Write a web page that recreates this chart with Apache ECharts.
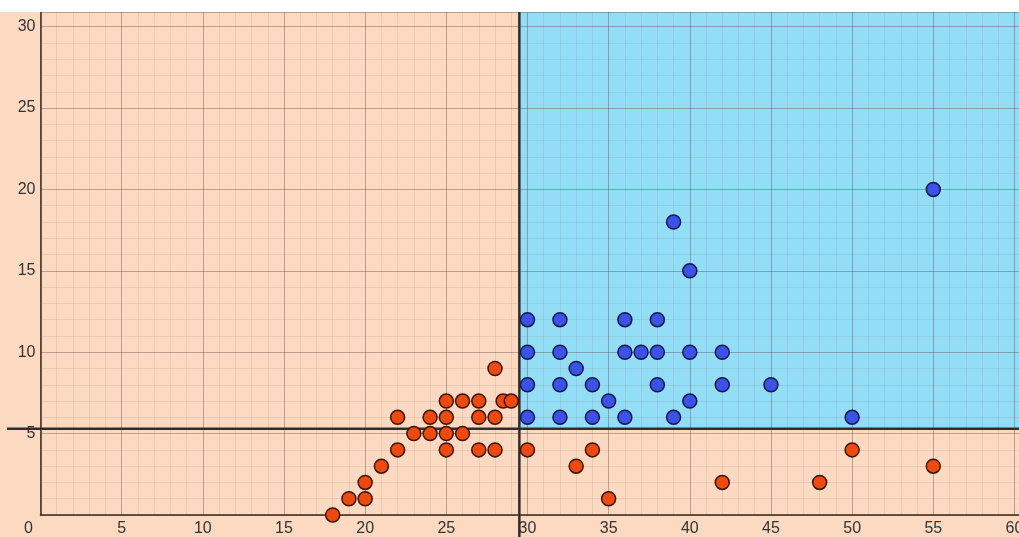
<!DOCTYPE html>
<html>
<head>
<meta charset="utf-8">
<script src="https://cdn.jsdelivr.net/npm/echarts@6/dist/echarts.min.js"></script>
<style>
  html, body { margin: 0; padding: 0; background: #ffffff; width: 1019px; height: 537px; overflow: hidden; }
  #chart { position: absolute; left: 0; top: 12px; width: 1019px; height: 525px; }
</style>
</head>
<body>
<div id="chart"></div>
<script>
// ---- data ----
const orangeX = [18,19,20,20,21,22,22,23,24,24,25,25,25,25,26,26,27,27,27,28,28,28,28.5,29,30,33,34,35,42,48,50,55];
const orangeY = [0,1,1,2,3,4,6,5,5,6,4,5,6,7,5,7,4,6,7,4,6,9,7,7,4,3,4,1,2,2,4,3];
const blueX = [30,32,36,38, 30,32,36,37,38,40,42, 33, 30,32,34,38,42,45, 35,40, 30,32,34,36,39,50, 39,40,55];
const blueY = [12,12,12,12, 10,10,10,10,10,10,10, 9, 8,8,8,8,8,8, 7,7, 6,6,6,6,6,6, 18,15,20];
const xThreshold = 29.5;
const yThreshold = 5.3;
const xTickStep = 5;   // x tick labels 0,5,...,60
const yTickStep = 5;   // y tick labels 0,5,...,30
const xMax = 60.28;
const yMax = 30.9;

const orangeData = orangeX.map((x, i) => [x, orangeY[i]]);
const blueData = blueX.map((x, i) => [x, blueY[i]]);

const PEACH = '#FCD9C1';
const BLUE = '#93DDF6';
const majorLine = { lineStyle: { color: 'rgba(70,50,45,0.28)', width: 1 } };
const minorLine = { lineStyle: { color: 'rgba(110,70,55,0.10)', width: 1 } };
const labelFont = { fontFamily: 'Liberation Sans, Arial, sans-serif', fontSize: 16, color: '#333333' };

const chart = echarts.init(document.getElementById('chart'), null, { renderer: 'canvas' });

chart.setOption({
  backgroundColor: PEACH,
  animation: false,
  grid: { left: 40.5, right: 0, top: 0, bottom: 22, outerBoundsMode: 'none', containLabel: false },
  xAxis: [
    {
      type: 'value', min: 0, max: xMax, interval: xTickStep,
      axisLine: { show: true, onZero: false, lineStyle: { color: '#3b2a20', width: 1.5 } },
      axisTick: { show: false },
      axisLabel: Object.assign({}, labelFont, {
        margin: 6, showMaxLabel: false,
        formatter: v => v === 0 ? '{o|0}' : String(v),
        rich: { o: Object.assign({}, labelFont, { padding: [0, 24, 0, 0] }) }
      }),
      splitLine: Object.assign({ show: true }, majorLine),
      z: 2
    },
    {
      type: 'value', min: 0, max: xMax, interval: 1, position: 'top',
      axisLine: { show: false }, axisTick: { show: false }, axisLabel: { show: false },
      splitLine: Object.assign({ show: true }, minorLine),
      z: 1
    }
  ],
  yAxis: [
    {
      type: 'value', min: 0, max: yMax, interval: yTickStep,
      axisLine: { show: true, onZero: false, lineStyle: { color: '#3b2a20', width: 1.5 } },
      axisTick: { show: false },
      axisLabel: Object.assign({}, labelFont, { margin: 5, showMaxLabel: false, showMinLabel: false }),
      splitLine: Object.assign({ show: true }, majorLine),
      z: 2
    },
    {
      type: 'value', min: 0, max: yMax, interval: 1, position: 'right',
      axisLine: { show: false }, axisTick: { show: false }, axisLabel: { show: false },
      splitLine: Object.assign({ show: true }, minorLine),
      z: 1
    }
  ],
  series: [
    {
      type: 'scatter', name: 'region', data: [], z: -2, silent: true,
      markArea: {
        silent: true, z: -2,
        itemStyle: { color: BLUE, opacity: 1 },
        data: [[{ xAxis: xThreshold, yAxis: yThreshold }, { xAxis: xMax, yAxis: yMax }]]
      }
    },
    {
      type: 'scatter', name: 'orange', data: orangeData, z: 5,
      symbol: 'circle', symbolSize: 14,
      itemStyle: { color: '#EE4A10', borderColor: '#3a1408', borderWidth: 1.5, opacity: 1 }
    },
    {
      type: 'scatter', name: 'blue', data: blueData, z: 5,
      symbol: 'circle', symbolSize: 14,
      itemStyle: { color: '#3B52E8', borderColor: '#141a44', borderWidth: 1.5, opacity: 1 }
    }
  ]
});

// threshold lines extend beyond the plotting area; place them via the axis scales
const p = chart.convertToPixel({ gridIndex: 0 }, [xThreshold, yThreshold]);
const W = chart.getWidth(), H = chart.getHeight();
chart.setOption({
  graphic: [
    { type: 'line', z: 3, shape: { x1: p[0], y1: 0, x2: p[0], y2: H }, style: { stroke: '#2e2e2e', lineWidth: 2.5 } },
    { type: 'line', z: 3, shape: { x1: 7, y1: p[1], x2: W, y2: p[1] }, style: { stroke: '#2e2e2e', lineWidth: 2.5 } }
  ]
});
</script>
</body>
</html>
